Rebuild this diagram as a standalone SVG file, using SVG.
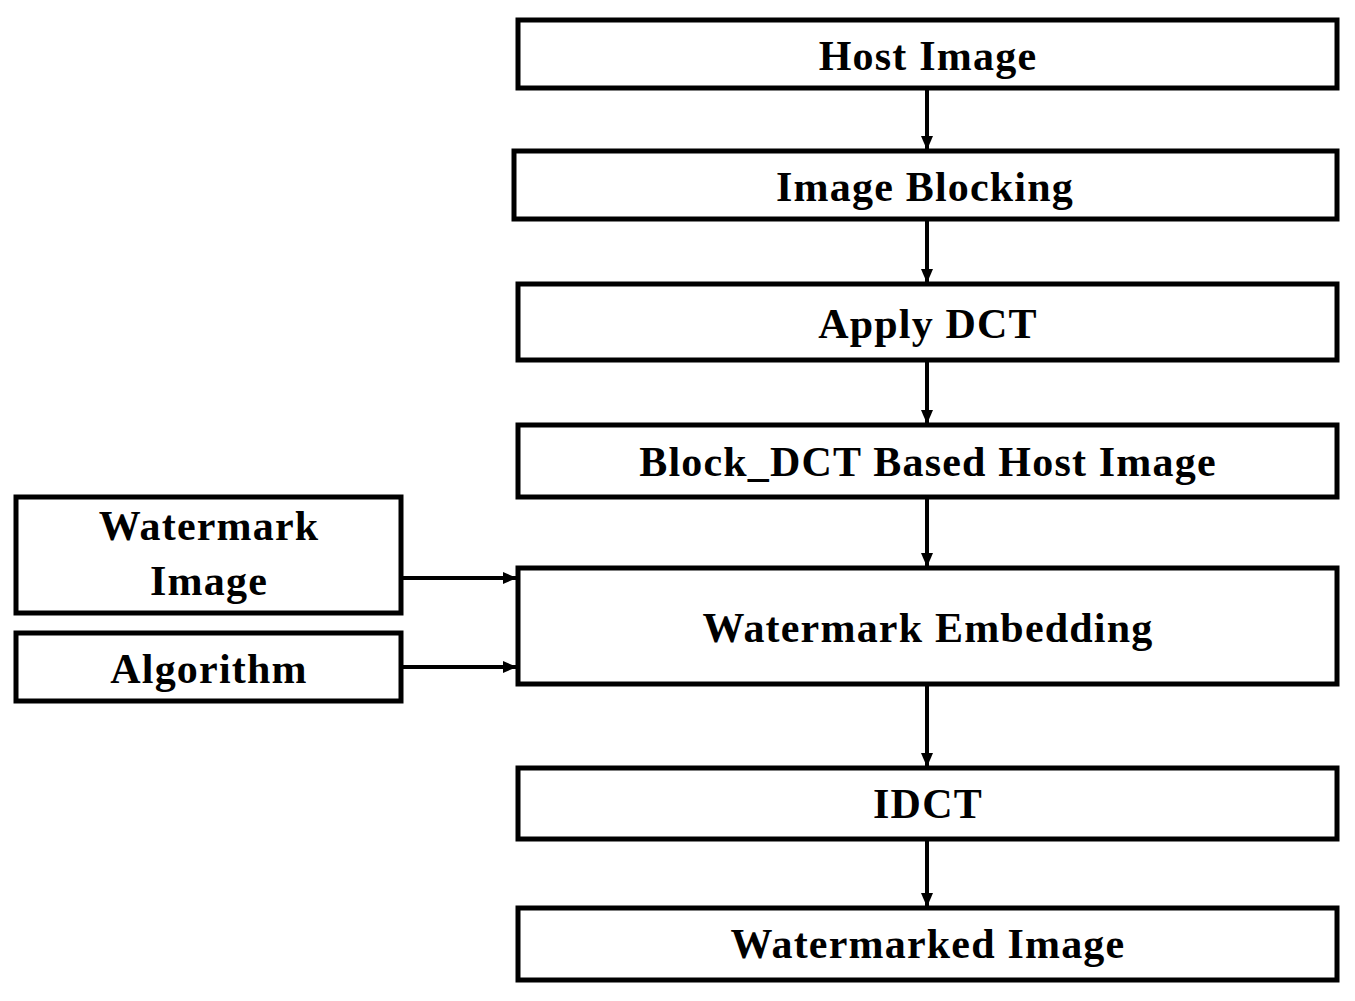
<svg xmlns="http://www.w3.org/2000/svg" width="1355" height="1001" viewBox="0 0 1355 1001">
<style>
rect{fill:#fff;stroke:#000;stroke-width:5}
text{font-family:"Liberation Serif",serif;font-weight:bold;font-size:42px;letter-spacing:1.2px;text-anchor:middle;fill:#000}
line{stroke:#000;stroke-width:4}
</style>
<defs><marker id="a" markerWidth="14" markerHeight="12" refX="13" refY="6" orient="auto" markerUnits="userSpaceOnUse"><path d="M0,0L14,6L0,12z"/></marker></defs>
<rect width="1355" height="1001" style="stroke:none"/>
<g id="n1"><rect x="518" y="20" width="819" height="68"/><text x="928" y="70">Host Image</text></g>
<g id="n2"><rect x="514" y="151" width="823" height="68"/><text x="925" y="201">Image Blocking</text></g>
<g id="n3"><rect x="518" y="284" width="819" height="76"/><text x="928" y="338">Apply DCT</text></g>
<g id="n4"><rect x="518" y="425" width="819" height="72"/><text x="928" y="476">Block_DCT Based Host Image</text></g>
<g id="n5"><rect x="518" y="568" width="819" height="116"/><text x="928" y="642">Watermark Embedding</text></g>
<g id="n6"><rect x="518" y="768" width="819" height="71"/><text x="928" y="818">IDCT</text></g>
<g id="n7"><rect x="518" y="908" width="819" height="72"/><text x="928" y="958">Watermarked Image</text></g>
<g id="n8"><rect x="16" y="497" width="385" height="116"/><text x="209" y="540">Watermark</text><text x="209" y="595">Image</text></g>
<g id="n9"><rect x="16" y="633" width="385" height="68"/><text x="209" y="683">Algorithm</text></g>
<g id="c" marker-end="url(#a)">
<line x1="927" y1="88" x2="927" y2="149"/>
<line x1="927" y1="219" x2="927" y2="282"/>
<line x1="927" y1="360" x2="927" y2="423"/>
<line x1="927" y1="497" x2="927" y2="566"/>
<line x1="927" y1="684" x2="927" y2="766"/>
<line x1="927" y1="839" x2="927" y2="906"/>
<line x1="401" y1="578" x2="516" y2="578"/>
<line x1="401" y1="667" x2="516" y2="667"/>
</g>
</svg>
